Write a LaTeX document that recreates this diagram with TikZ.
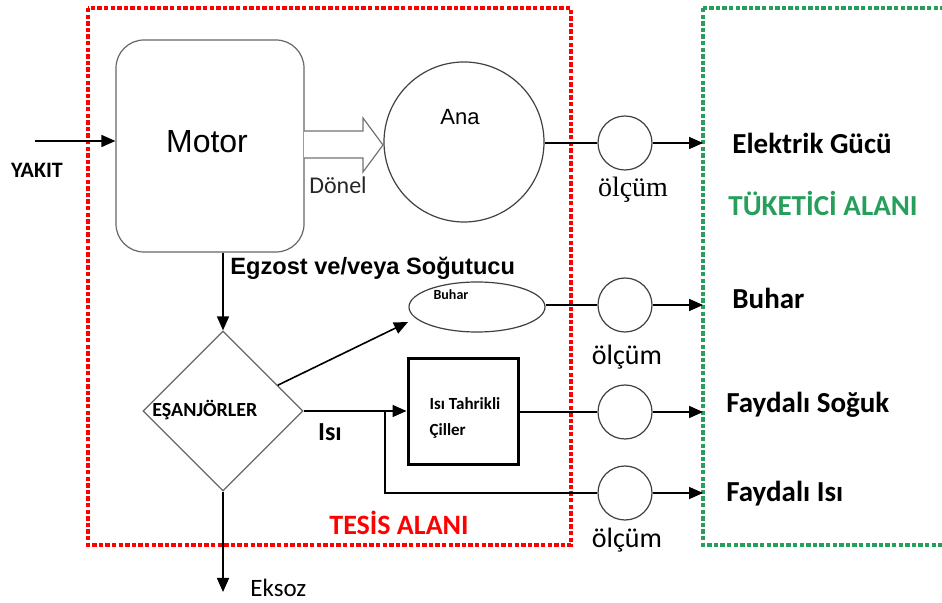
\documentclass[tikz,border=0pt]{standalone}
\usepackage{fontspec}
\setmainfont{Carlito}
\newfontfamily\arialfont{Liberation Sans}
\newfontfamily\timesfont{Liberation Serif}
\usetikzlibrary{arrows.meta, positioning, shapes.geometric, calc}
\definecolor{tesisred}{RGB}{255,0,0}
\definecolor{tuketgreen}{RGB}{38,158,92}

\begin{document}
\begin{tikzpicture}[
    x=0.5pt, y=-0.5pt,
    arr/.style={-{Triangle[length=7pt,width=6pt]}, line width=0.8pt},
    olcum/.style={circle, draw=black!75, minimum size=27pt, inner sep=0pt, line width=0.6pt},
    zone/.style={line width=2.2pt, dash pattern=on 2.2pt off 1.1pt},
    lbl/.style={font=\bfseries\fontsize{14.5}{16}\selectfont, anchor=west, inner sep=0pt},
    olcumlbl/.style={font=\fontsize{14}{16}\selectfont},
]
\useasboundingbox (0,0) rectangle (942,603);

% zones
\draw[zone, tesisred] (88,8) rectangle (571,545);
\draw[zone, tuketgreen] (703,8) rectangle (960,545);
\node[font=\bfseries\fontsize{14}{16}\selectfont, text=tesisred] (tesis) at (399,523) {TESİS ALANI};
\node[lbl, text=tuketgreen] (tuketici) at (728,203) {TÜKETİCİ ALANI};

% plant
\node[draw=black!60, rounded corners=14pt, minimum width=94pt, minimum height=106pt,
      line width=0.6pt] (motor) at (210,146) {};
\node[font=\arialfont\fontsize{16}{18}\selectfont] (motorlbl) at (207,142) {Motor};
\node[circle, draw=black!75, minimum size=80pt, inner sep=0pt, line width=0.6pt] (ana) at (464,142) {};
\node[font=\arialfont\fontsize{11}{13}\selectfont] (analbl) at (460,117) {Ana};
\node[diamond, draw=black!60, minimum width=80pt, minimum height=80pt, inner sep=0pt,
      line width=0.6pt] (esanj) at (223,411) {};
\node[font=\bfseries\fontsize{10}{11}\selectfont, anchor=west, inner sep=0pt] (esanjlbl) at (152,410) {EŞANJÖRLER};
\node[ellipse, draw=black!75, minimum width=68pt, minimum height=25pt, inner sep=0pt,
      line width=0.6pt] (buhar) at (477,307) {};
\node[font=\bfseries\fontsize{7}{8}\selectfont] (buharlbl) at (451,295) {Buhar};
\node[draw, line width=1.5pt, minimum width=55pt, minimum height=53pt] (chiller) at (463,412) {};
\node[font=\bfseries\fontsize{8.5}{13}\selectfont, align=left] (chillerlbl) at (465,418) {Isı Tahrikli\\Çiller};

% meters
\node[olcum] (olcA) at (625,143) {};
\node[olcum] (olcB) at (625,305) {};
\node[olcum] (olcC) at (625,412) {};
\node[olcum] (olcD) at (625,493) {};
\node[olcumlbl, font=\timesfont\fontsize{14}{16}\selectfont] (olcAlbl) at (633,190) {ölçüm};
\node[olcumlbl] (olcBlbl) at (627,357) {ölçüm};
\node[olcumlbl] (olcDlbl) at (627,540) {ölçüm};

% outputs
\coordinate (elk) at (703,143);
\coordinate (buh) at (703,305);
\coordinate (sog) at (703,412);
\coordinate (isi) at (703,493);
\node[lbl] (elklbl) at (732,143) {Elektrik Gücü};
\node[lbl] (buhlbl) at (732,298) {Buhar};
\node[lbl] (soglbl) at (726,405) {Faydalı Soğuk};
\node[lbl] (isilbl) at (726,494) {Faydalı Isı};

% inputs, flows
\coordinate (yakit) at (35,141);
\node[font=\bfseries\fontsize{11}{12}\selectfont] (yakitlbl) at (37,170) {YAKIT};
\draw[arr] (yakit) -- (motor.west |- yakit);

\draw[black!55, line width=0.6pt, fill=white]
    (304,131) -- (363,131) -- (363,118) -- (383,145) -- (363,172) -- (363,158) -- (304,158);
\node[font=\fontsize{12}{13}\selectfont, text=black!85] (donel) at (338,185) {Dönel};

\draw[arr] (esanj.north |- motor.south) -- (esanj.north);
\node[font=\arialfont\bfseries\fontsize{11.8}{13}\selectfont, anchor=west, inner sep=0pt] (egzost) at (230,268)
    {Egzost ve/veya Soğutucu};

\coordinate (buharin) at (408,322);
\draw[arr] ($(esanj.east)!0.32!(esanj.north)$) -- (buharin);

\coordinate (split) at (385,411);
\draw[arr] (esanj.east) -- (chiller.west |- esanj.east);
\node[font=\bfseries\fontsize{13}{15}\selectfont] (isilabel) at (330,432) {Isı};
\draw[line width=0.8pt] (split) |- (olcD.west);

\coordinate (eksoz) at (223,592);
\draw[arr] (esanj.south) -- (eksoz);
\node[font=\fontsize{12.5}{14}\selectfont, anchor=west, inner sep=0pt] (eksozlbl) at (250,588) {Eksoz};

% to meters and consumers
\draw[line width=0.6pt] (ana.east |- olcA) -- (olcA.west);
\draw[arr] (olcA.east) -- (elk);
\draw[line width=0.6pt] (buhar.east |- olcB) -- (olcB.west);
\draw[arr] (olcB.east) -- (buh);
\draw[line width=0.8pt] (chiller.east |- olcC) -- (olcC.west);
\draw[arr] (olcC.east) -- (sog);
\draw[arr] (olcD.east) -- (isi);
\end{tikzpicture}
\end{document}
